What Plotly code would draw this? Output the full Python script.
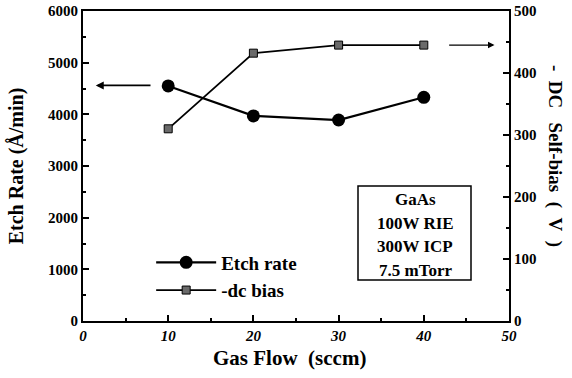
import plotly.graph_objects as go

# ---- data ----
gas_flow = [10, 20, 30, 40]
etch_rate = [4550, 3970, 3890, 4330]          # Å/min (left axis)
dc_bias = [310, 432, 445, 445]                # V (right axis)

x_ticks = [0, 10, 20, 30, 40, 50]
y1_ticks = [0, 1000, 2000, 3000, 4000, 5000, 6000]
y2_ticks = [0, 100, 200, 300, 400, 500]

box_lines = ["GaAs", "100W RIE", "300W ICP", "7.5 mTorr"]

FONT = "Liberation Serif"
NB = "\u00a0"

fig = go.Figure()
fig.add_trace(go.Scatter(
    x=gas_flow, y=etch_rate, name="<b>Etch rate</b>", mode="lines+markers",
    line=dict(color="black", width=2.2),
    marker=dict(symbol="circle", size=13, color="black"),
    yaxis="y"))
fig.add_trace(go.Scatter(
    x=gas_flow, y=dc_bias, name="<b>-dc bias</b>", mode="lines+markers",
    line=dict(color="black", width=1.8),
    marker=dict(symbol="square", size=8, color="#6a6a6a",
                line=dict(color="black", width=1)),
    yaxis="y2"))

tickfont = dict(family=FONT, size=15, color="black")

fig.update_layout(
    width=572, height=378,
    margin=dict(l=83, r=63, t=11, b=57),
    paper_bgcolor="white", plot_bgcolor="white",
    font=dict(family=FONT, color="black"),
    showlegend=True,
    legend=dict(x=0.16, y=0.25, xanchor="left", yanchor="top",
                bgcolor="rgba(0,0,0,0)", borderwidth=0,
                font=dict(family=FONT, size=19, color="black"),
                itemwidth=60, tracegroupgap=0),
    xaxis=dict(range=[0, 50], tickvals=x_ticks, automargin=False,
               ticktext=[f"<b><i>{v}</i></b>" for v in x_ticks],
               ticks="inside", ticklen=6, tickwidth=1.5, tickcolor="black",
               minor=dict(dtick=5, ticks="inside", ticklen=3, tickcolor="black"),
               showline=True, linecolor="black", linewidth=2, mirror=True,
               showgrid=False, zeroline=False, tickfont=tickfont),
    yaxis=dict(range=[0, 6000], tickvals=y1_ticks, automargin=False,
               ticktext=[f"<b>{v}</b>" for v in y1_ticks],
               ticks="inside", ticklen=6, tickwidth=1.5, tickcolor="black",
               minor=dict(dtick=500, ticks="inside", ticklen=3, tickcolor="black"),
               showline=True, linecolor="black", linewidth=2,
               showgrid=False, zeroline=False, tickfont=tickfont,
               title=dict(text="<b>Etch Rate (Å/min)</b>", standoff=19,
                          font=dict(family=FONT, size=20, color="black"))),
    yaxis2=dict(range=[0, 500], tickvals=y2_ticks, automargin=False,
                ticktext=[f"<b>{v}</b>" for v in y2_ticks],
                overlaying="y", side="right",
                ticks="inside", ticklen=6, tickwidth=1.5, tickcolor="black",
                minor=dict(dtick=50, ticks="inside", ticklen=3, tickcolor="black"),
                showline=True, linecolor="black", linewidth=2,
                showgrid=False, zeroline=False, tickfont=tickfont),
)

# x axis title
fig.add_annotation(text=f"<b>Gas Flow{NB}{NB}(sccm)</b>", xref="paper", yref="paper",
                   x=(289 - 83) / 426, y=0, yshift=-37, xanchor="center",
                   yanchor="middle", showarrow=False,
                   font=dict(family=FONT, size=21, color="black"))

# right axis title, reading top to bottom
rt = f"<b>-{NB}{NB}DC{NB}{NB}{NB}Self-bias{NB}{NB}({NB}{NB}V{NB}{NB})</b>"
fig.add_annotation(text=rt, textangle=90,
                   xref="paper", yref="paper", x=1.0, y=(321 - 156) / 310,
                   xshift=46, xanchor="center", yanchor="middle", showarrow=False,
                   font=dict(family=FONT, size=19, color="black"))

# arrows pointing to the axes
fig.add_annotation(x=1.5, y=4560, ax=8.1, ay=4560, xref="x", yref="y",
                   axref="x", ayref="y", text="", showarrow=True,
                   arrowhead=2, arrowsize=1, arrowwidth=1.6, arrowcolor="black")
fig.add_annotation(x=48.3, y=445, ax=42.8, ay=445, xref="x", yref="y2",
                   axref="x", ayref="y2", text="", showarrow=True,
                   arrowhead=2, arrowsize=1, arrowwidth=1.3, arrowcolor="black")

# condition box (frame + one annotation per line)
fig.add_shape(type="rect", xref="paper", yref="paper",
              x0=(358 - 83) / 426, x1=(471 - 83) / 426,
              y0=(321 - 280) / 310, y1=(321 - 186) / 310,
              line=dict(color="black", width=1.5), fillcolor="white")
line_y = [200, 223, 247, 270]
for txt, yy in zip(box_lines, line_y):
    fig.add_annotation(text=f"<b>{txt}</b>", xref="paper", yref="paper",
                       x=(415 - 83) / 426, y=(321 - yy) / 310,
                       xanchor="center", yanchor="middle",
                       showarrow=False, font=dict(family=FONT, size=17, color="black"))

fig.write_html("out.html", config={"displayModeBar": False},
               post_script="document.body.style.margin='0';")
